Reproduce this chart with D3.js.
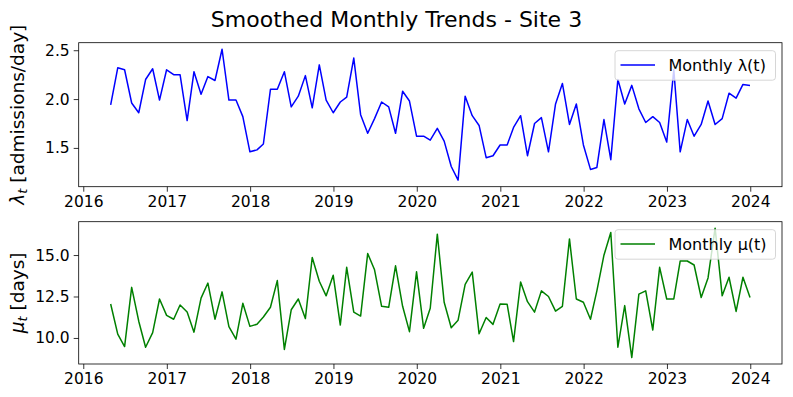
<!DOCTYPE html>
<html>
<head>
<meta charset="utf-8">
<script src="https://cdn.jsdelivr.net/npm/d3@7"></script>
<style>
  html, body { margin: 0; padding: 0; background: #fff; }
  svg { display: block; font-family: "DejaVu Sans", sans-serif; }
</style>
</head>
<body>
<svg id="chart" width="793" height="397"></svg>
<script>
// ---------------- data ----------------
const title = "Smoothed Monthly Trends - Site 3";
const startMonth = "2016-04";   // first monthly point (month end)
const endMonth = "2023-12";     // last monthly point (month end)

const lambdaValues = [
  1.94, 2.32, 2.30, 1.96, 1.86, 2.20, 2.31, 1.99, 2.30, 2.25,
  2.25, 1.78, 2.28, 2.05, 2.23, 2.19, 2.51, 1.99, 1.99, 1.82,
  1.46, 1.48, 1.54, 2.10, 2.10, 2.28, 1.92, 2.03, 2.24, 1.91,
  2.35, 1.99, 1.86, 1.97, 2.02, 2.42, 1.84, 1.65, 1.80, 1.97,
  1.92, 1.65, 2.08, 1.98, 1.62, 1.62, 1.58, 1.70, 1.57, 1.31,
  1.17, 2.03, 1.83, 1.73, 1.40, 1.42, 1.53, 1.53, 1.71, 1.83,
  1.42, 1.75, 1.81, 1.46, 1.95, 2.16, 1.74, 1.95, 1.53, 1.28,
  1.30, 1.79, 1.38, 2.20, 1.95, 2.14, 1.90, 1.76, 1.82, 1.76,
  1.56, 2.30, 1.46, 1.79, 1.62, 1.74, 1.98, 1.74, 1.80, 2.06,
  2.01, 2.15, 2.14
];

const muValues = [
  12.05, 10.23, 9.48, 13.05, 11.01, 9.44, 10.32, 12.35, 11.36, 11.13,
  11.99, 11.56, 10.35, 12.40, 13.31, 11.13, 12.78, 10.68, 9.93, 12.09,
  10.70, 10.83, 11.26, 11.85, 13.46, 9.31, 11.70, 12.35, 11.17, 14.85,
  13.42, 12.54, 13.78, 10.78, 14.26, 11.56, 11.32, 15.09, 14.11, 11.91,
  11.85, 14.35, 11.91, 10.38, 13.99, 10.58, 11.79, 16.26, 12.15, 10.62,
  11.07, 13.23, 13.97, 10.25, 11.23, 10.82, 12.05, 12.03, 9.78, 13.38,
  12.19, 11.56, 12.84, 12.50, 11.62, 11.91, 15.97, 12.35, 12.15, 11.13,
  12.84, 14.99, 16.36, 9.44, 11.95, 8.82, 12.64, 12.84, 10.48, 14.26,
  12.35, 12.35, 14.64, 14.64, 14.40, 12.44, 13.62, 16.62, 12.54, 13.66,
  11.60, 13.66, 12.44
];

const lambdaTicks = [1.5, 2.0, 2.5];
const muTicks = [10.0, 12.5, 15.0];
const yearTicks = [2016, 2017, 2018, 2019, 2020, 2021, 2022, 2023, 2024];

const lambdaLegend = "Monthly λ(t)";
const muLegend = "Monthly μ(t)";

// ---------------- build dates (month ends) ----------------
const parseM = d3.utcParse("%Y-%m");
const firstStarts = d3.utcMonth.range(parseM(startMonth), d3.utcMonth.offset(parseM(endMonth), 1));
const dates = firstStarts.map(d => d3.utcDay.offset(d3.utcMonth.offset(d, 1), -1));

// ---------------- layout ----------------
const svg = d3.select("#chart");
const L = 78.7, R = 782;
const panels = [
  { top: 42.7, bottom: 186.7, values: lambdaValues, ticks: lambdaTicks, color: "#0000ff",
    legend: lambdaLegend, label: "lambda" },
  { top: 221.7, bottom: 364, values: muValues, ticks: muTicks, color: "#008000",
    legend: muLegend, label: "mu" }
];

function padExtent(ext) {
  const m = (ext[1] - ext[0]) * 0.05;
  return [ext[0] - m, ext[1] + m];
}
const xDomainRaw = d3.extent(dates).map(d => +d);
const xPad = padExtent(xDomainRaw);
const x = d3.scaleUtc().domain([new Date(xPad[0]), new Date(xPad[1])]).range([L, R]);

const tickFont = 15.5;

// title
svg.append("text")
  .attr("x", 396.5)
  .attr("y", 27)
  .attr("text-anchor", "middle")
  .attr("font-size", 22)
  .attr("fill", "#000")
  .text(title);

panels.forEach((p, i) => {
  const y = d3.scaleLinear().domain(padExtent(d3.extent(p.values))).range([p.bottom, p.top]);
  const g = svg.append("g");

  // line
  const line = d3.line().x((d, k) => x(dates[k])).y(d => y(d));
  g.append("path")
    .datum(p.values)
    .attr("d", line)
    .attr("fill", "none")
    .attr("stroke", p.color)
    .attr("stroke-width", 1.5)
    .attr("stroke-linejoin", "round");

  // x axis
  const xAxis = d3.axisBottom(x)
    .tickValues(yearTicks.map(yr => new Date(Date.UTC(yr, 0, 1))))
    .tickFormat(d3.utcFormat("%Y"))
    .tickSize(5).tickPadding(4);
  const gx = g.append("g").attr("transform", `translate(0,${p.bottom})`).call(xAxis);
  gx.select(".domain").remove();
  gx.selectAll("line").attr("stroke", "#000").attr("stroke-width", 0.8);
  gx.selectAll("text").attr("font-size", tickFont).attr("font-family", "DejaVu Sans").attr("fill", "#000");

  // y axis
  const yAxis = d3.axisLeft(y).tickValues(p.ticks).tickFormat(d3.format(".1f")).tickSize(5).tickPadding(4);
  const gy = g.append("g").attr("transform", `translate(${L},0)`).call(yAxis);
  gy.select(".domain").remove();
  gy.selectAll("line").attr("stroke", "#000").attr("stroke-width", 0.8);
  gy.selectAll("text").attr("font-size", tickFont).attr("font-family", "DejaVu Sans").attr("fill", "#000");

  // frame
  g.append("rect")
    .attr("x", L).attr("y", p.top)
    .attr("width", R - L).attr("height", p.bottom - p.top)
    .attr("fill", "none").attr("stroke", "#000").attr("stroke-width", 0.8);

  // legend
  const lx = 615, ly = p.top + 8, lw = 160.5, lh = 29.5;
  g.append("rect")
    .attr("x", lx).attr("y", ly).attr("width", lw).attr("height", lh)
    .attr("rx", 3).attr("ry", 3)
    .attr("fill", "#fff").attr("fill-opacity", 0.8)
    .attr("stroke", "#cccccc").attr("stroke-width", 0.8);
  g.append("line")
    .attr("x1", lx + 5.5).attr("x2", lx + 40)
    .attr("y1", ly + lh / 2 - 0.5).attr("y2", ly + lh / 2 - 0.5)
    .attr("stroke", p.color).attr("stroke-width", 1.5);
  g.append("text")
    .attr("x", lx + 53.5).attr("y", ly + lh / 2 + 5.5)
    .attr("font-size", 16)
    .attr("fill", "#000")
    .text(p.legend);

  // y label (mathtext-like)
  const cy = (p.top + p.bottom) / 2;
  const t = svg.append("text")
    .attr("transform", `translate(23.5,${cy}) rotate(-90)`)
    .attr("text-anchor", "middle")
    .attr("font-size", 18.5)
    .attr("fill", "#000");
  t.append("tspan").attr("font-style", "italic").text(p.label === "lambda" ? "λ" : "μ");
  t.append("tspan").attr("font-style", "italic").attr("font-size", 13).attr("dy", 3.5).text("t");
  t.append("tspan").attr("dy", -3.5).text(p.label === "lambda" ? " [admissions/day]" : " [days]");
});
</script>
</body>
</html>
